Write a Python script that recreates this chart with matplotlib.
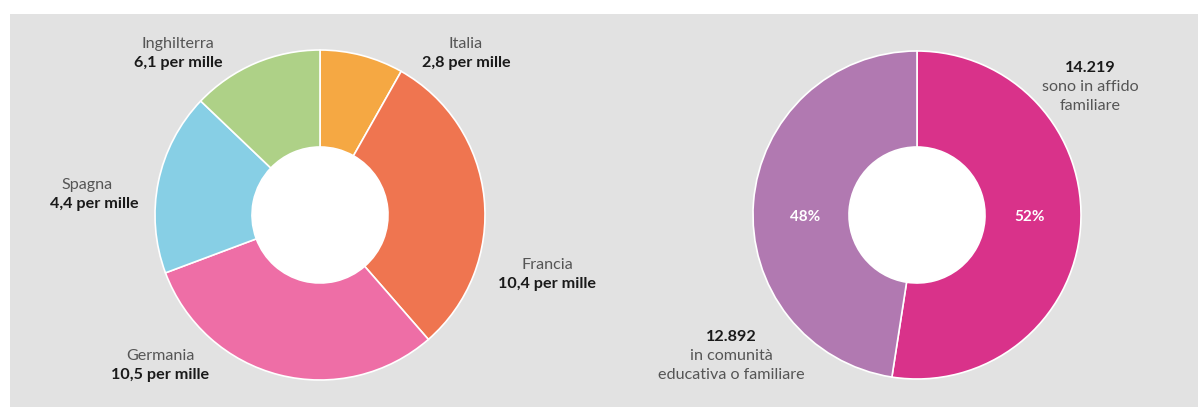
import matplotlib.pyplot as plt
import numpy as np

# dati (spicchi nell'ordine in cui compaiono, in senso orario da ore 12)
paesi = ['Italia', 'Francia', 'Germania', 'Spagna', 'Inghilterra']
spicchi = [2.8, 10.4, 10.5, 6.1, 4.4]
etichette_valori = ['2,8 per mille', '10,4 per mille', '10,5 per mille', '4,4 per mille', '6,1 per mille']
colori_paesi = ['#f5a843', '#ef7550', '#ee6ea6', '#87cfe5', '#aed187']

accoglienza = ['14.219', '12.892']
minori = [14219, 12892]
descrizioni = [['sono in affido', 'familiare'], ['in comunità', 'educativa o familiare']]
percentuali = ['52%', '48%']
colori_acc = ['#d9328a', '#b179b1']

W, H = 1198, 407
fig = plt.figure(figsize=(W / 100, H / 100), dpi=100)
fig.patch.set_facecolor('white')
ax = fig.add_axes([0, 0, 1, 1])

def py(y):
    return H - y

grigio = '#555555'
nero = '#1a1a1a'

# ciambella sinistra
ax.pie(spicchi, colors=colori_paesi, startangle=90, counterclock=False,
       center=(320, py(215)), radius=165, frame=True,
       wedgeprops=dict(width=97, edgecolor='white', linewidth=1.2))
ax.add_patch(plt.Circle((320, py(215)), 68, facecolor='white', edgecolor='none', zorder=5))

pos_paesi = {'Italia': (466, 44, 466, 63),
             'Francia': (547, 265, 547, 284),
             'Germania': (160, 356, 160, 375),
             'Spagna': (87, 185, 94, 204),
             'Inghilterra': (178, 44, 178, 63)}
for p, et in zip(paesi, etichette_valori):
    x1, y1, x2, y2 = pos_paesi[p]
    ax.text(x1, py(y1), p, ha='center', va='center', fontsize=11.6,
            family='Lato', fontweight='normal', color=grigio)
    ax.text(x2, py(y2), et, ha='center', va='center', fontsize=11.6,
            family='Lato', fontweight='bold', color=nero)

# ciambella destra
ax.pie(minori, colors=colori_acc, startangle=90, counterclock=False,
       center=(917, py(215)), radius=164, frame=True,
       wedgeprops=dict(width=96, edgecolor='white', linewidth=1.2))
ax.add_patch(plt.Circle((917, py(215)), 68, facecolor='white', edgecolor='none', zorder=5))

ax.set_xlim(0, W)
ax.set_ylim(0, H)
ax.set_aspect('equal')
ax.axis('off')

# sfondo grigio
ax.add_patch(plt.Rectangle((10, 0), W - 10, H - 14, facecolor='#e2e2e2',
                           edgecolor='none', zorder=-10))

ax.text(1030, py(217), percentuali[0], ha='center', va='center', fontsize=11,
        family='Lato', fontweight='bold', color='white')
ax.text(805, py(217), percentuali[1], ha='center', va='center', fontsize=11,
        family='Lato', fontweight='bold', color='white')

pos_acc = [(1090, 68), (731, 337)]
for num, righe, (x, y) in zip(accoglienza, descrizioni, pos_acc):
    ax.text(x, py(y), num, ha='center', va='center', fontsize=11.6,
            family='Lato', fontweight='bold', color=nero)
    for i, r in enumerate(righe):
        ax.text(x, py(y + 19 * (i + 1)), r, ha='center', va='center', fontsize=11.6,
                family='Lato', fontweight='normal', color=grigio)

fig.savefig('out.png', dpi=100, facecolor='white')
